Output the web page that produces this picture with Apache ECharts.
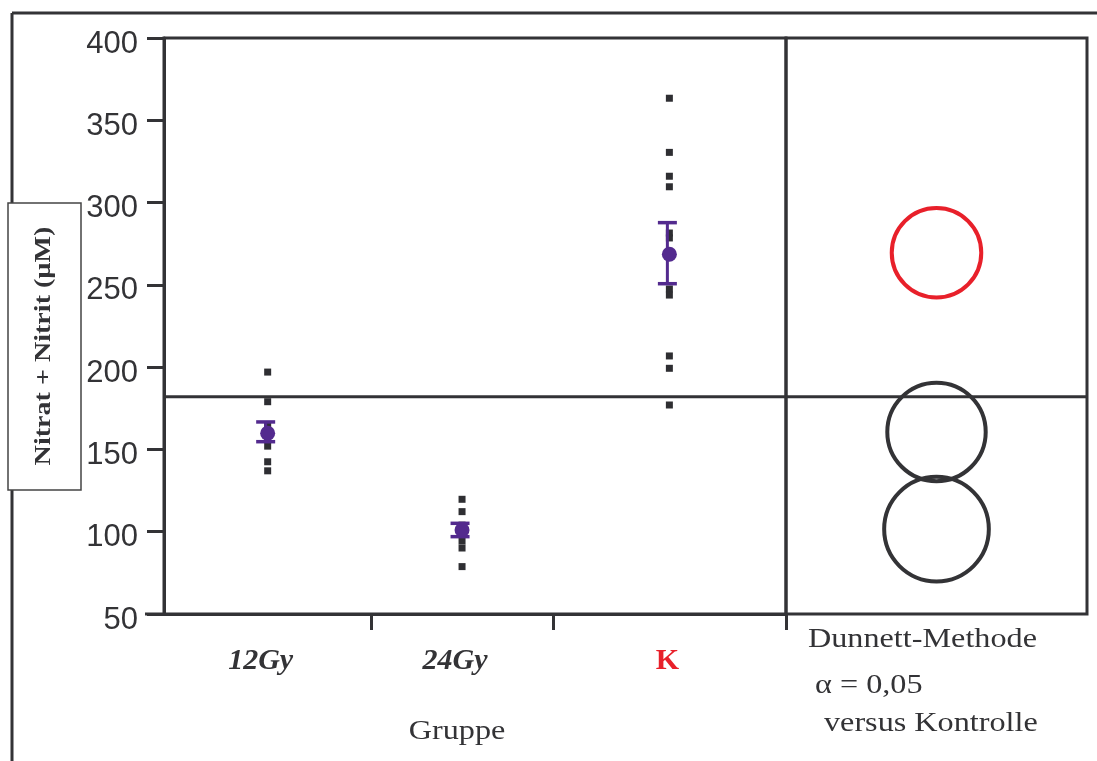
<!DOCTYPE html>
<html>
<head>
<meta charset="utf-8">
<script src="https://cdn.jsdelivr.net/npm/echarts@6/dist/echarts.min.js"></script>
<style>
html,body{margin:0;padding:0;background:#fff;}
#chart{width:1097px;height:761px;}
</style>
</head>
<body>
<div id="chart"></div>
<script>
// ---- data ----
var categories = ['12Gy', '24Gy', 'K'];
var groupBounds = [0, 8, 15, 24];            // horizontal extent of each group (JMP-style widths)
var groupCenters = [4, 11.5, 19.5];
var values12Gy = [197, 179, 164, 156, 152, 142.5, 137];
var values24Gy = [119.7, 112.2, 104, 101, 94.4, 90.1, 78.8];
var valuesK = [363.4, 330.5, 316, 309.6, 281.5, 278.5, 247.5, 243.8, 206.8, 199.3, 177];
var groupMeans = [159.8, 101, 268.6];
var groupLower = [154.7, 97, 250.7];
var groupUpper = [166.7, 105.1, 287.8];
var grandLine = 182;
var yTicks = [50, 100, 150, 200, 250, 300, 350, 400];
var circleCenters = [269.5, 160.6, 101.6];   // Dunnett comparison circles
var circleRadii = [27.2, 29.9, 31.8];
var circleIsControl = [true, false, false];
var yTitle = 'Nitrat + Nitrit (µM)';
var xTitle = 'Gruppe';
var noteLines = ['Dunnett-Methode', 'α = 0,05', 'versus Kontrolle'];

var DARK = '#333336';
var PURPLE = '#532a8e';
var RED = '#e8202a';
var SX = 1.15; // horizontal stretch of the reference's text

var chart = echarts.init(document.getElementById('chart'), null, {renderer: 'canvas'});

var groupValues = [values12Gy, values24Gy, valuesK];
var pointData = [];
groupValues.forEach(function (arr, i) {
  arr.forEach(function (v) { pointData.push([groupCenters[i], v]); });
});
var meanData = groupMeans.map(function (m, i) { return [groupCenters[i], m]; });
var errData = groupMeans.map(function (m, i) { return [groupCenters[i], groupLower[i], groupUpper[i]]; });
var circleData = circleCenters.map(function (c, i) { return [0.5, c, circleRadii[i], circleIsControl[i] ? 1 : 0]; });

var option = {
  animation: false,
  backgroundColor: '#fff',
  grid: [
    {left: 164, top: 38, width: 622, height: 576, show: true, borderColor: DARK, borderWidth: 3, backgroundColor: 'transparent'},
    {left: 786, top: 38, width: 301, height: 576, show: true, borderColor: DARK, borderWidth: 3, backgroundColor: 'transparent'}
  ],
  xAxis: [
    {
      type: 'value', gridIndex: 0, min: groupBounds[0], max: groupBounds[3],
      splitLine: {show: false},
      axisLine: {show: true, onZero: false, lineStyle: {color: DARK, width: 3}},
      axisTick: {show: true, inside: false, length: 16, lineStyle: {color: DARK, width: 3}, customValues: groupBounds.slice(1)},
      axisLabel: {
        show: true, margin: 32, customValues: groupCenters,
        formatter: function (v) {
          var i = groupCenters.indexOf(v);
          if (i < 0) return '';
          return i === 2 ? '{k|' + categories[i] + '}' : '{g|' + categories[i] + '}';
        },
        rich: {
          g: {fontFamily: 'Liberation Serif', fontStyle: 'italic', fontWeight: 'bold', fontSize: 30, color: DARK, padding: [0, 14, 0, 0]},
          k: {fontFamily: 'Liberation Serif', fontWeight: 'bold', fontSize: 30, color: RED, padding: [0, 4, 0, 0]}
        }
      }
    },
    {type: 'value', gridIndex: 1, min: 0, max: 1, show: false}
  ],
  yAxis: [
    {
      type: 'value', gridIndex: 0, min: 50, max: 400, interval: 50,
      splitLine: {show: false},
      axisLine: {show: true, lineStyle: {color: DARK, width: 3}},
      axisTick: {show: true, inside: false, length: 17, lineStyle: {color: DARK, width: 3}},
      axisLabel: {
        margin: 26,
        formatter: function (v) { return yTicks.indexOf(v) >= 0 ? '{n|' + v + '}' : ''; },
        rich: {
          n: {fontFamily: 'Liberation Sans', fontSize: 31, color: DARK, padding: [12, 0, 0, 0]}
        }
      }
    },
    {type: 'value', gridIndex: 1, min: 50, max: 400, interval: 50, show: false}
  ],
  series: [
    {
      type: 'scatter', xAxisIndex: 0, yAxisIndex: 0, symbol: 'rect', symbolSize: 7,
      itemStyle: {color: '#2e2e32', opacity: 1}, data: pointData, z: 3
    },
    {
      type: 'custom', xAxisIndex: 0, yAxisIndex: 0, z: 4,
      renderItem: function (params, api) {
        var x = api.value(0);
        var lo = api.coord([x, api.value(1)]);
        var hi = api.coord([x, api.value(2)]);
        var cx = lo[0] - 2;
        var hw = 9.5;
        return {type: 'group', children: [
          {type: 'line', shape: {x1: cx, y1: lo[1], x2: cx, y2: hi[1]}, style: {stroke: PURPLE, lineWidth: 3}},
          {type: 'line', shape: {x1: cx - hw, y1: lo[1], x2: cx + hw, y2: lo[1]}, style: {stroke: PURPLE, lineWidth: 3.5}},
          {type: 'line', shape: {x1: cx - hw, y1: hi[1], x2: cx + hw, y2: hi[1]}, style: {stroke: PURPLE, lineWidth: 3.5}}
        ]};
      },
      data: errData
    },
    {
      type: 'scatter', xAxisIndex: 0, yAxisIndex: 0, symbol: 'circle', symbolSize: 15,
      itemStyle: {color: PURPLE, opacity: 1}, data: meanData, z: 5
    },
    {
      type: 'custom', xAxisIndex: 1, yAxisIndex: 1, z: 3,
      renderItem: function (params, api) {
        var c = api.coord([api.value(0), api.value(1)]);
        var r = api.size([0, api.value(2)])[1];
        return {type: 'circle', shape: {cx: c[0], cy: c[1], r: r},
          style: {fill: 'none', stroke: api.value(3) ? RED : DARK, lineWidth: 4}};
      },
      data: circleData
    }
  ]
};
chart.setOption(option);

// overall reference line across both panels and decorative frame / titles
var pL = chart.convertToPixel({gridIndex: 0}, [0, grandLine]);
var pR = chart.convertToPixel({gridIndex: 1}, [1, grandLine]);
var axL = chart.convertToPixel({gridIndex: 0}, [0, 50]);
function txt(x, y, s, size) {
  return {type: 'text', x: x, y: y, scaleX: SX, z: 11,
    style: {text: s, fontFamily: 'Liberation Serif', fontSize: size, fill: DARK, align: 'left', verticalAlign: 'middle'}};
}
chart.setOption({
  graphic: [
    {type: 'line', shape: {x1: pL[0], y1: pL[1], x2: pR[0], y2: pR[1]}, style: {stroke: DARK, lineWidth: 3}, z: 2},
    {type: 'line', shape: {x1: 145, y1: axL[1], x2: axL[0], y2: axL[1]}, style: {stroke: DARK, lineWidth: 3}},
    {type: 'line', shape: {x1: 12, y1: 13, x2: 1097, y2: 13}, style: {stroke: DARK, lineWidth: 3}},
    {type: 'line', shape: {x1: 12, y1: 13, x2: 12, y2: 761}, style: {stroke: DARK, lineWidth: 3}},
    {type: 'rect', shape: {x: 8, y: 203, width: 73, height: 287}, style: {fill: '#fff', stroke: '#444', lineWidth: 1.5}, z: 10},
    {type: 'text', x: 44, y: 346, rotation: Math.PI / 2, scaleX: 1.17, z: 11,
      style: {text: yTitle, fontFamily: 'Liberation Serif', fontWeight: 'bold', fontSize: 24, fill: DARK, align: 'center', verticalAlign: 'middle'}},
    {type: 'text', x: 457, y: 732, scaleX: SX, z: 11,
      style: {text: xTitle, fontFamily: 'Liberation Serif', fontSize: 28, fill: DARK, align: 'center', verticalAlign: 'middle'}},
    txt(808, 640, noteLines[0], 28),
    txt(815, 686, noteLines[1], 28),
    txt(824, 724, noteLines[2], 28)
  ]
});
</script>
</body>
</html>
